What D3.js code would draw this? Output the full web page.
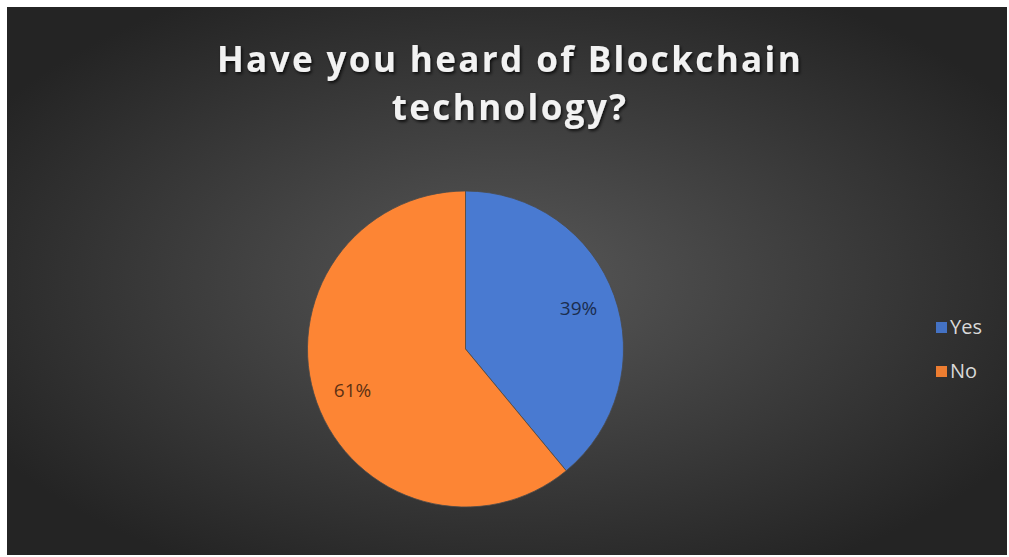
<!DOCTYPE html>
<html>
<head>
<meta charset="utf-8">
<script src="https://cdn.jsdelivr.net/npm/d3@7"></script>
<style>
  html, body { margin: 0; padding: 0; background: #ffffff; }
  svg { display: block; }
</style>
</head>
<body>
<svg id="chart" width="1009" height="557"></svg>
<script>
// Survey answers
const categories = ["Yes", "No"];
const values = [39, 61];
const colors = ["#4472C4", "#ED7D31"];
const titleLines = ["Have you heard of Blockchain", "technology?"];

const svg = d3.select("#chart");
const defs = svg.append("defs");
const font = "'Open Sans', 'Liberation Sans', sans-serif";

// Dark radial background
const bg = defs.append("radialGradient").attr("id", "bgGrad")
  .attr("cx", "50%").attr("cy", "50%").attr("r", "60%");
bg.append("stop").attr("offset", "0%").attr("stop-color", "#585858");
bg.append("stop").attr("offset", "100%").attr("stop-color", "#242424");

svg.append("rect").attr("x", 7).attr("y", 7).attr("width", 1000).attr("height", 548)
  .attr("fill", "url(#bgGrad)");

// Title with soft drop shadow
const shadow = defs.append("filter").attr("id", "tshadow")
  .attr("x", "-10%").attr("y", "-30%").attr("width", "120%").attr("height", "160%");
shadow.append("feDropShadow").attr("dx", 1.5).attr("dy", 2).attr("stdDeviation", 1.6)
  .attr("flood-color", "#000").attr("flood-opacity", 0.75);

const title = svg.append("text")
  .attr("text-anchor", "middle")
  .attr("font-family", font)
  .attr("font-weight", "bold")
  .attr("font-size", 35)
  .attr("letter-spacing", 2.4)
  .attr("fill", "#f2f2f2")
  .attr("filter", "url(#tshadow)");
titleLines.forEach((t, i) => {
  title.append("tspan").attr("x", 510).attr("y", 72 + i * 48).text(t);
});

// Pie
const cx = 465.5, cy = 349, R = 158;
const pie = d3.pie().sort(null).value(d => d)(values);
const arc = d3.arc().innerRadius(0).outerRadius(R);
const labelArc = d3.arc().innerRadius(R * 0.76).outerRadius(R * 0.76);

colors.forEach((c, i) => {
  const g = defs.append("linearGradient").attr("id", "slice" + i)
    .attr("gradientUnits", "userSpaceOnUse")
    .attr("x1", 0).attr("y1", cy - R).attr("x2", 0).attr("y2", cy + R);
  g.append("stop").attr("offset", "0%").attr("stop-color", d3.color(c).brighter(0.18));
  g.append("stop").attr("offset", "100%").attr("stop-color", d3.color(c).darker(0.12));
});

const pg = svg.append("g").attr("transform", `translate(${cx},${cy})`);
pg.selectAll("path").data(pie).join("path")
  .attr("d", arc)
  .attr("fill", (d, i) => `url(#slice${i})`)
  .attr("stroke", "#4a4a4a")
  .attr("stroke-width", 0.8);

pg.selectAll("text").data(pie).join("text")
  .attr("transform", d => {
    const [x, y] = labelArc.centroid(d);
    return `translate(${x},${y})`;
  })
  .attr("text-anchor", "middle")
  .attr("dy", "0.36em")
  .attr("font-family", font)
  .attr("font-size", 19)
  .attr("fill", (d, i) => d3.color(colors[i]).darker(2.6))
  .text(d => d.data + "%");

// Legend
const lg = svg.append("g").attr("transform", "translate(936,322)");
categories.forEach((c, i) => {
  const row = lg.append("g").attr("transform", `translate(0,${i * 44})`);
  row.append("rect").attr("width", 11).attr("height", 11).attr("fill", colors[i]);
  row.append("text").attr("x", 14).attr("y", 12)
    .attr("font-family", font)
    .attr("font-size", 20)
    .attr("fill", "#d9d9d9")
    .text(c);
});
</script>
</body>
</html>
